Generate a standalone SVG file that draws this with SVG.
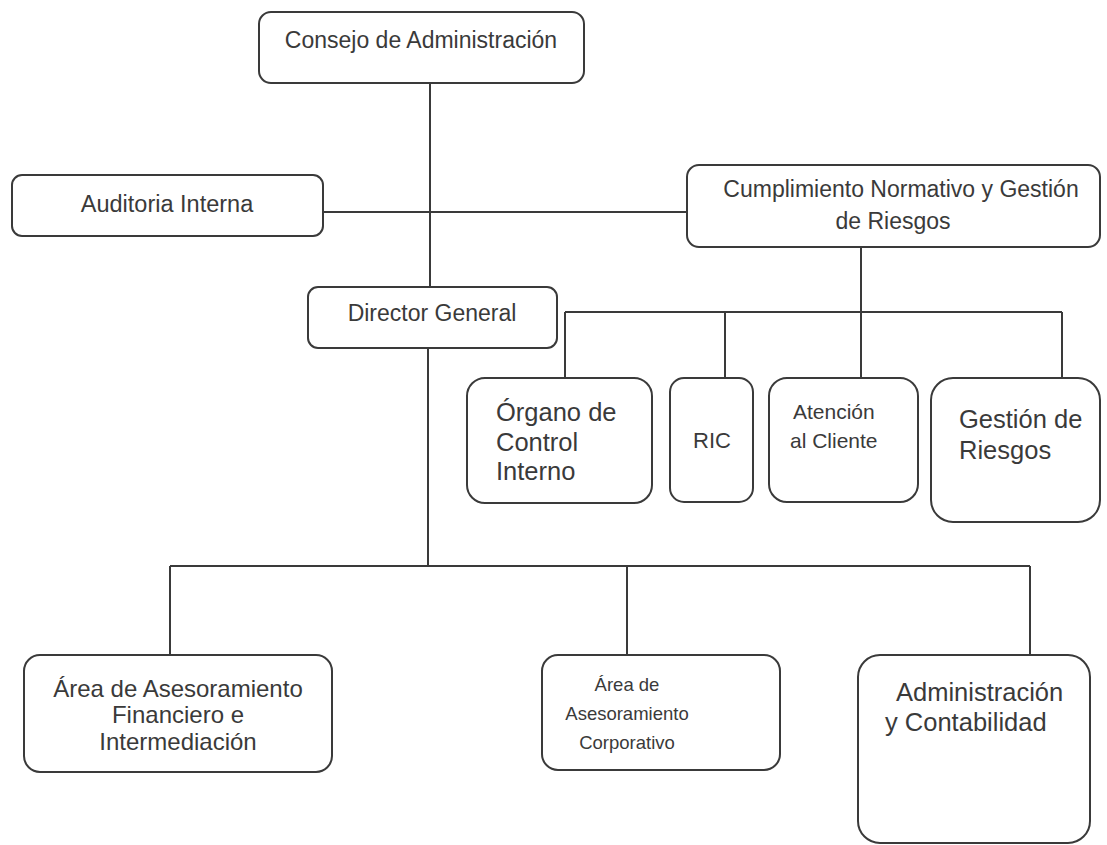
<svg xmlns="http://www.w3.org/2000/svg" width="1107" height="845" viewBox="0 0 1107 845">
<style>
.box{fill:#fff;stroke:#3a3a3a;stroke-width:2}
.t{font-family:"Liberation Sans",Arial,sans-serif;font-size:23px;fill:#3a3a3a}
.m{font-size:21px}
.s{font-size:18.5px}
.f{font-size:24px}
.l{font-size:25.5px}
.c{text-anchor:middle}
.ln{stroke:#3a3a3a;stroke-width:2;fill:none}
</style>
<rect width="1107" height="845" fill="#fff"/>
<g id="connectors">
<path class="ln" d="M430,83 V287"/>
<path class="ln" d="M323,212 H687"/>
<path class="ln" d="M861,247 V378"/>
<path class="ln" d="M565,312 H1062"/>
<path class="ln" d="M565,312 V378"/>
<path class="ln" d="M725,312 V378"/>
<path class="ln" d="M1062,312 V378"/>
<path class="ln" d="M428,348 V566"/>
<path class="ln" d="M170,566 H1030"/>
<path class="ln" d="M170,566 V655"/>
<path class="ln" d="M627,566 V655"/>
<path class="ln" d="M1030,566 V655"/>
</g>
<g id="consejo"><rect class="box" x="259" y="12" width="325" height="71" rx="12"/><text class="t c" x="421" y="48">Consejo de Administración</text></g>
<g id="auditoria"><rect class="box" x="12" y="175" width="311" height="61" rx="10"/><text class="t c" x="167" y="212" style="font-size:23.5px">Auditoria Interna</text></g>
<g id="cumplimiento"><rect class="box" x="687" y="165" width="413" height="82" rx="12"/><text class="t c" x="901" y="197">Cumplimiento Normativo y Gestión</text><text class="t c" x="893" y="229">de Riesgos</text></g>
<g id="director"><rect class="box" x="308" y="287" width="249" height="61" rx="10"/><text class="t c" x="432" y="321">Director General</text></g>
<g id="organo"><rect class="box" x="467" y="378" width="185" height="125" rx="18"/><text class="t l" x="496" y="421">Órgano de</text><text class="t l" x="496" y="451">Control</text><text class="t l" x="496" y="480">Interno</text></g>
<g id="ric"><rect class="box" x="670" y="378" width="83" height="124" rx="14"/><text class="t c" x="712" y="448" style="font-size:22px">RIC</text></g>
<g id="atencion"><rect class="box" x="769" y="378" width="149" height="124" rx="18"/><text class="t m" x="793" y="419">Atención</text><text class="t m" x="790" y="448">al Cliente</text></g>
<g id="gestion"><rect class="box" x="931" y="378" width="169" height="144" rx="22"/><text class="t l" x="959" y="428">Gestión de</text><text class="t l" x="959" y="459">Riesgos</text></g>
<g id="area-financiero"><rect class="box" x="24" y="655" width="308" height="117" rx="16"/><text class="t f c" x="178" y="697">Área de Asesoramiento</text><text class="t f c" x="178" y="723">Financiero e</text><text class="t f c" x="178" y="750">Intermediación</text></g>
<g id="area-corporativo"><rect class="box" x="542" y="655" width="238" height="115" rx="16"/><text class="t s c" x="627" y="691">Área de</text><text class="t s c" x="627" y="720">Asesoramiento</text><text class="t s c" x="627" y="749">Corporativo</text></g>
<g id="administracion"><rect class="box" x="858" y="655" width="232" height="188" rx="22"/><text class="t l" x="896" y="701">Administración</text><text class="t l" x="885" y="731">y Contabilidad</text></g>
</svg>
